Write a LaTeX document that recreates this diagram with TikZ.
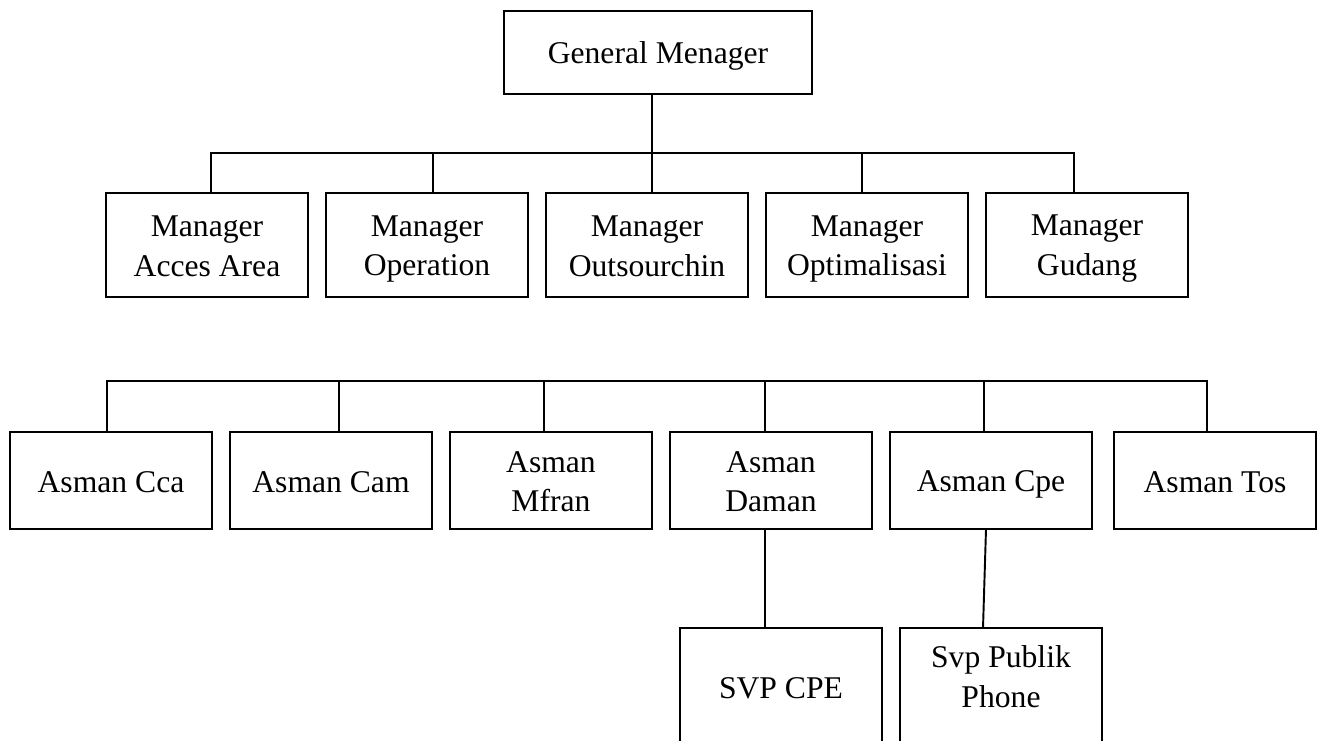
\documentclass[tikz,border=0pt]{standalone}
\usepackage{fontspec}
\setmainfont{Liberation Serif}
\usetikzlibrary{positioning}
\newcommand{\bxs}{\rule[-3pt]{0pt}{19.1pt}}
\tikzset{%
	topbox/.style   = {draw, rectangle, line width=1.1pt, outer sep=0pt, minimum width=6.16cm, minimum height=1.66cm, align=center},
	mgrbox/.style   = {draw, rectangle, line width=1.1pt, outer sep=0pt, minimum width=4.04cm, minimum height=2.08cm, align=center},
	asmbox/.style   = {draw, rectangle, line width=1.1pt, outer sep=0pt, minimum width=4.04cm, minimum height=1.94cm, align=center},
	svpbox/.style   = {draw, rectangle, line width=1.1pt, outer sep=0pt, minimum width=4.04cm, minimum height=2.36cm, align=center},
	link/.style     = {line width=1.1pt},
}

\begin{document}
\begin{tikzpicture}[font=\fontsize{18}{22.5}\selectfont]
	\useasboundingbox (0,0) rectangle (26.5,-14.8);
	\clip (0,0) rectangle (26.5,-14.8);
	% top
	\node[topbox] (gm) at (13.16,-1.05) {\bxs General Menager};
	% managers
	\node[mgrbox] (macc) at (4.14,-4.9) {\bxs Manager\\\bxs Acces Area};
	\node[mgrbox,right=0.36cm of macc] (mop) {\bxs Manager\\\bxs Operation};
	\node[mgrbox,right=0.36cm of mop] (mout) {\bxs Manager\\\bxs Outsourchin};
	\node[mgrbox,right=0.36cm of mout] (mopt) {\bxs Manager\\\bxs Optimalisasi};
	\node[mgrbox,right=0.36cm of mopt] (mgud) {\bxs Manager\\\bxs Gudang};
	% asman
	\node[asmbox] (acca) at (2.22,-9.61) {\bxs Asman Cca};
	\node[asmbox,right=0.36cm of acca] (acam) {\bxs Asman Cam};
	\node[asmbox,right=0.36cm of acam] (amfr) {\bxs Asman\\\bxs Mfran};
	\node[asmbox,right=0.36cm of amfr] (adam) {\bxs Asman\\\bxs Daman};
	\node[asmbox,right=0.36cm of adam] (acpe) {\bxs Asman Cpe};
	\node[asmbox,right=0.44cm of acpe] (atos) {\bxs Asman Tos};
	% svp
	\node[svpbox] (svpcpe) at (15.62,-13.74) {\bxs SVP CPE};
	\node[svpbox] (svppp) at (20.02,-13.74) {};
	\node[align=center] (svppt) at ([yshift=0.22cm]svppp.center) {\bxs Svp Publik\\\bxs Phone};
	% lines
	\coordinate (busA) at (0,-3.06);
	\coordinate (busB) at (0,-7.62);
	\draw[link] ([xshift=-0.12cm]gm.south) -- ([xshift=-0.12cm]gm.south |- busA);
	\draw[link] ([xshift=0.08cm]macc.north) -- ([xshift=0.08cm]macc.north |- busA)
		-- ([xshift=-0.26cm]mgud.north |- busA) -- ([xshift=-0.26cm]mgud.north);
	\draw[link] ([xshift=0.12cm]mop.north) -- ([xshift=0.12cm]mop.north |- busA);
	\draw[link] ([xshift=0.1cm]mout.north) -- ([xshift=0.1cm]mout.north |- busA);
	\draw[link] ([xshift=-0.1cm]mopt.north) -- ([xshift=-0.1cm]mopt.north |- busA);
	\draw[link] ([xshift=-0.08cm]acca.north) -- ([xshift=-0.08cm]acca.north |- busB)
		-- ([xshift=-0.16cm]atos.north |- busB) -- ([xshift=-0.16cm]atos.north);
	\draw[link] ([xshift=0.16cm]acam.north) -- ([xshift=0.16cm]acam.north |- busB);
	\draw[link] ([xshift=-0.14cm]amfr.north) -- ([xshift=-0.14cm]amfr.north |- busB);
	\draw[link] ([xshift=-0.12cm]adam.north) -- ([xshift=-0.12cm]adam.north |- busB);
	\draw[link] ([xshift=-0.14cm]acpe.north) -- ([xshift=-0.14cm]acpe.north |- busB);
	\draw[link] ([xshift=-0.12cm]adam.south) -- ([xshift=-0.32cm]svpcpe.north);
	\draw[link] ([xshift=-0.1cm]acpe.south) -- ([xshift=-0.36cm]svppp.north);
\end{tikzpicture}
\end{document}
